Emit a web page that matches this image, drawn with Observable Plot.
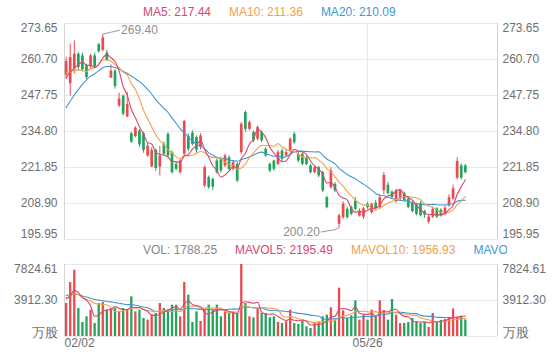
<!DOCTYPE html>
<html><head><meta charset="utf-8">
<script src="https://cdn.jsdelivr.net/npm/d3@7"></script>
<script src="https://cdn.jsdelivr.net/npm/@observablehq/plot@0.6"></script>
<style>
body{margin:0;background:#fff;font-family:Arial,"Liberation Sans",sans-serif;}
#wrap{position:relative;width:560px;height:360px;overflow:hidden;background:#fff;}
#main,#vol{position:absolute;left:0;}
#main{top:0;}
#vol{top:240px;}
.legend{position:absolute;left:143px;height:16px;font-size:12px;line-height:14px;white-space:nowrap;overflow:hidden;display:flex;gap:18px;}
#lg1{top:5px;width:360px;}
#lg2{top:243px;width:364px;}
</style></head>
<body><div id="wrap"><div id="main"></div><div id="vol"></div><div id="lg1" class="legend"></div><div id="lg2" class="legend"></div></div>
<script>
// ---- data ----
const open  = [255,252,257.2,262.6,262,258.4,258,262,266,264, 263,254,256.5,244,247.5,240,234,233,235,234, 226,222,228,222,230.2,233.8,227.2,223,220,226.6, 233,234.2,232.6,229,215.2,218.2,217.6,224.2,225,222.4, 225.4,221.2,223,227.2,241.6,235.6,234.4,232,234.4,228.4, 223,224.2,223,227.8,226,227.8,233.8,226.6,226.6,225.4, 222.4,220,221.8,220,211,214.6,215.8,201.4,203.8,206.8, 207.4,209.8,204.4,204,208.6,205.6,209,207.5,213.5,215.5, 213,209.5,210.5,212.5,210.5,209,208.5,209,206,202.2, 204,207,206.5,205,208,210.5,218,222.4,222.4];
const high  = [261.5,266.2,267.4,263.2,263,259,262.5,263,266.5,269.4, 264,258.8,257,248.6,248,248.8,234.5,236.5,235.5,234.5, 230.5,229,228.5,229.5,231,234.4,227.8,223.6,224.8,238.8, 234,235,233.2,234,222.4,218.8,218,225,225.6,226.6, 226,224.2,223.6,238,242.2,238.6,235,236.8,235,229, 223.5,224.5,228,228.5,228,232.5,234.5,227.5,227,226, 223,222.5,222.3,220.5,211.5,221.8,216.4,205,209.5,207.5, 208,211,207,207.5,209.2,209,210,212,220,216.5, 213.5,214,214,213,211,209.5,209,209.5,206.5,205, 207.5,207.5,207,208,212,215.5,225.4,223.2,223];
const low   = [253.5,247.6,255.4,256.6,256.5,253.5,257.2,257.5,263,263.5, 260,254,250,243.4,240.4,239.8,230.5,232.5,229,227, 225.5,221.8,220.5,218.8,226,225.4,219.4,220.6,219.4,226, 227.5,229.6,227,228.2,214.6,214,213.6,219.4,219.8,221.8, 220.6,220.6,216.4,226.6,234.4,235,230.8,231.4,230.8,225.5, 220,220.5,222.5,224,225.5,227,230.2,223.5,222.5,222.5, 219.5,219.5,218.2,212.8,207,214,212.8,200.2,203.2,203.2, 204.5,206.2,204,203.2,206.8,205,206.5,207,212,212, 210.5,209,210,209.5,207,205.5,204.5,204,203.5,201.5, 203.5,203.5,204,204.5,207.5,210,217.5,217.4,219.5];
const close = [260,261.4,262.6,257.8,257,254.2,262,258,263.5,268.5, 260.3,256.5,251,246.5,241,244.5,231,236,230,228, 229.5,228,221.5,226,226.6,226,220,221.2,224.2,238.4, 228.4,230.2,228,233.2,221.8,214.6,214.8,220,220.6,226, 221.2,223.6,217,237.4,235.6,238,231.4,236.2,231.4,226, 220.6,221.2,227.2,224.8,227.2,232,230.8,224.2,223,223, 220,221.8,218.8,213.4,207.4,220.6,213.4,204.5,208.6,203.8, 205,206.8,206.2,207,207.4,208.6,207,211,219,212.5, 211,213.5,213.5,210,207.5,206,205,204.5,204.7,204, 206.8,204,204.4,207.2,211,214.2,224,218,220];
const volume = [3586,5868,7206,3043,1521,2137,2862,1413,3586,3695, 2862,3043,3043,2681,3043,2862,4310,2681,2862,1956, 1775,2318,2500,3586,3043,2862,3405,3405,2137,5868, 4492,1521,2681,1630,2862,3405,2862,3405,2137,2681, 2500,2500,2500,7824,3586,2137,2030,3043,2500,2500, 2030,2137,1521,1413,1594,2862,1413,1304,1630,1050, 869,1413,1594,2137,2318,3115,1775,5253,2790,1956, 2246,3876,1775,2318,1775,2862,2137,3876,2826,1775, 4021,2318,1413,1413,1521,1956,1594,1413,1521,1000, 2500,1500,1750,1841.85,2000,3000,2000,2189.2,1788.25];
// closes / volumes of the 19 sessions before the visible window (needed for the moving averages at the left edge)
const priorClose  = [216,217,219,220,221,236,240,243,247,251,256,258,257,259,257,252,255,251,253];
const priorVolume = [4200,5100,4600,4900,4300,5200,4500,4800,4700,4700,4000,4600,4100,4500,4300,4400,3900,4500,4114];

const priceTicks = [195.95,208.90,221.85,234.80,247.75,260.70,273.65];
const volTicks = [0,3912.30,7824.61];
const volTickLabels = ["万股","3912.30","7824.61"];
const xTickIdx = [0,74];
const xTickLabels = ["02/02","05/26"];
const maLegend = ["MA5: 217.44","MA10: 211.36","MA20: 210.09"];
const volLegend = ["VOL: 1788.25","MAVOL5: 2195.49","MAVOL10: 1956.93","MAVOL20: 2187.36"];

// ---- styles ----
const RED = "#eb4a50", GREEN = "#22a35c";
const C5 = "#d9486c", C10 = "#f4a048", C20 = "#3f97d3";
const GRID = "#e8e8e8", EDGE = "#d4d4d4", LABEL = "#6e6e6e";
const FONT = "Arial, 'Liberation Sans', sans-serif";
const xDomain = [-0.4, 105.9];

const N = close.length;
const rows = d3.range(N).map(i => ({i, o: open[i], h: high[i], l: low[i], c: close[i], v: volume[i],
  col: close[i] >= open[i] ? RED : GREEN}));
function ma(series, prior, n) {
  const all = prior.concat(series);
  return series.map((_, i) => ({i, v: d3.mean(all.slice(i + prior.length - n + 1, i + prior.length + 1))}));
}
const ma5 = ma(close, priorClose, 5), ma10 = ma(close, priorClose, 10), ma20 = ma(close, priorClose, 20);
const mv5 = ma(volume, priorVolume, 5), mv10 = ma(volume, priorVolume, 10), mv20 = ma(volume, priorVolume, 20);

const iHigh = d3.maxIndex(high), iLow = d3.minIndex(low);
const hi = high[iHigh], lo = low[iLow];
const highLeader = [[iHigh, hi], [iHigh, hi + 0.45], [iHigh + 4.1, hi + 1.8]];
const lowLeader = [[iLow, lo], [iLow - 1.1, lo - 0.75], [iLow - 4.4, lo - 1.55]];

const midP = priceTicks.slice(1, -1);
const yLabels = (ticks, fmt, anchorSide) => {
  const left = anchorSide === "left";
  const base = {frameAnchor: anchorSide, textAnchor: left ? "end" : "start", dx: left ? -7 : 5, fill: LABEL};
  return base;
};

const main = Plot.plot({
  width: 560, height: 245, marginLeft: 64, marginRight: 63, marginTop: 23, marginBottom: 6,
  style: {fontFamily: FONT, fontSize: "12px", background: "transparent"},
  x: {domain: xDomain, axis: null},
  y: {domain: [priceTicks[0], priceTicks[priceTicks.length - 1]], axis: null},
  color: {type: "identity"},
  marks: [
    Plot.ruleY(priceTicks, {stroke: GRID}),
    Plot.ruleX(xTickIdx.slice(1), {stroke: GRID}),
    Plot.ruleX(xDomain, {stroke: EDGE}),
    Plot.ruleX(rows, {x: "i", y1: "l", y2: "h", stroke: "col", strokeWidth: 1}),
    Plot.ruleX(rows, {x: "i", y1: "o", y2: "c", stroke: "col", strokeWidth: 2.7}),
    Plot.line(ma20, {x: "i", y: "v", stroke: C20, strokeWidth: 1.1, curve: "monotone-x"}),
    Plot.line(ma10, {x: "i", y: "v", stroke: C10, strokeWidth: 1.1, curve: "monotone-x"}),
    Plot.line(ma5, {x: "i", y: "v", stroke: C5, strokeWidth: 1.1, curve: "monotone-x"}),
    Plot.line(highLeader, {x: d => d[0], y: d => d[1], stroke: "#9a9a9a", strokeWidth: 1}),
    Plot.text([hi], {x: iHigh + 4.5, y: d => d + 1.8, text: d => d.toFixed(2), textAnchor: "start", fill: "#8e8e8e"}),
    Plot.line(lowLeader, {x: d => d[0], y: d => d[1], stroke: "#9a9a9a", strokeWidth: 1}),
    Plot.text([lo], {x: iLow - 4.7, y: d => d - 1.55, text: d => d.toFixed(2), textAnchor: "end", fill: "#8e8e8e"}),
    // y labels left
    Plot.text(midP, {y: d => d, text: d => d.toFixed(2), ...yLabels(0, 0, "left")}),
    Plot.text([priceTicks[priceTicks.length - 1]], {y: d => d, text: d => d.toFixed(2), dy: 5, ...yLabels(0, 0, "left")}),
    Plot.text([priceTicks[0]], {y: d => d, text: d => d.toFixed(2), dy: -5, ...yLabels(0, 0, "left")}),
    // y labels right
    Plot.text(midP, {y: d => d, text: d => d.toFixed(2), ...yLabels(0, 0, "right")}),
    Plot.text([priceTicks[priceTicks.length - 1]], {y: d => d, text: d => d.toFixed(2), dy: 5, ...yLabels(0, 0, "right")}),
    Plot.text([priceTicks[0]], {y: d => d, text: d => d.toFixed(2), dy: -5, ...yLabels(0, 0, "right")})
  ]
});
document.getElementById("main").append(main);

const vt = volTicks.map((v, k) => ({v, t: volTickLabels[k]}));
const vol = Plot.plot({
  width: 560, height: 120, marginLeft: 64, marginRight: 63, marginTop: 24, marginBottom: 24,
  style: {fontFamily: FONT, fontSize: "12px", background: "transparent"},
  x: {domain: xDomain, axis: null},
  y: {domain: [0, volTicks[volTicks.length - 1]], axis: null},
  color: {type: "identity"},
  marks: [
    Plot.ruleY(volTicks, {stroke: GRID}),
    Plot.ruleX(xTickIdx.slice(1), {stroke: GRID}),
    Plot.ruleX(xDomain, {stroke: EDGE}),
    Plot.ruleX(rows, {x: "i", y1: 0, y2: "v", stroke: "col", strokeWidth: 2.3}),
    Plot.line(mv20, {x: "i", y: "v", stroke: C20, strokeWidth: 1.1, curve: "monotone-x"}),
    Plot.line(mv10, {x: "i", y: "v", stroke: C10, strokeWidth: 1.1, curve: "monotone-x"}),
    Plot.line(mv5, {x: "i", y: "v", stroke: C5, strokeWidth: 1.1, curve: "monotone-x"}),
    ...["left", "right"].flatMap(side => [
      Plot.text([vt[1]], {y: "v", text: "t", ...yLabels(0, 0, side)}),
      Plot.text([vt[2]], {y: "v", text: "t", dy: 5, ...yLabels(0, 0, side)}),
      Plot.text([vt[0]], {y: "v", text: "t", dy: -4, fontSize: 13, ...yLabels(0, 0, side)})
    ]),
    Plot.text([0], {x: d => xTickIdx[d], text: d => xTickLabels[d], frameAnchor: "bottom", dy: 10, dx: -1.6, textAnchor: "start", fill: LABEL}),
    Plot.text(d3.range(1, xTickIdx.length), {x: d => xTickIdx[d], text: d => xTickLabels[d], frameAnchor: "bottom", dy: 10, textAnchor: "middle", fill: LABEL})
  ]
});
document.getElementById("vol").append(vol);

const lg1 = document.getElementById("lg1");
[C5, C10, C20].forEach((c, k) => { const s = document.createElement("span"); s.textContent = maLegend[k]; s.style.color = c; lg1.append(s); });
const lg2 = document.getElementById("lg2");
["#888888", C5, C10, C20].forEach((c, k) => { const s = document.createElement("span"); s.textContent = volLegend[k]; s.style.color = c; lg2.append(s); });
</script>
</body></html>
